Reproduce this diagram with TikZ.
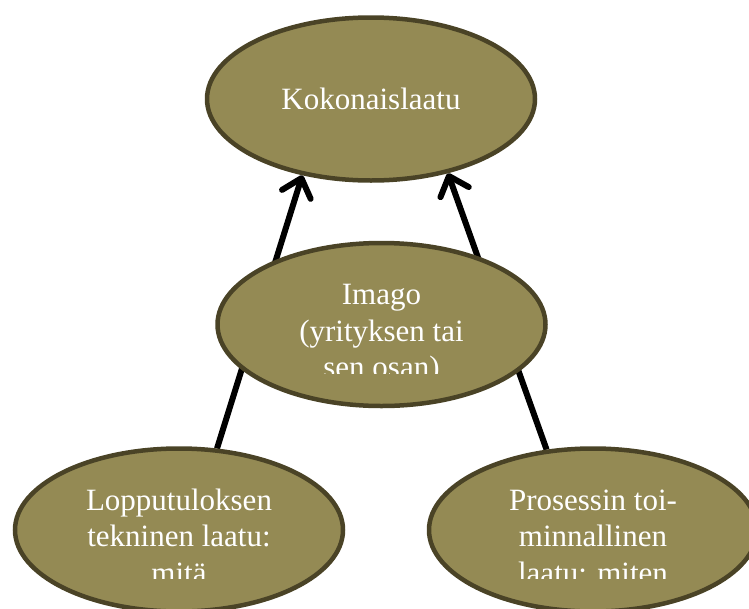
\documentclass[tikz,border=0pt]{standalone}
\usepackage{fontspec}
\setmainfont{Liberation Serif}
\usepackage{xcolor}
\usepackage{tikz}
\usetikzlibrary{positioning,arrows.meta,shapes.geometric,backgrounds}

\definecolor{olivefill}{RGB}{148,138,84}
\definecolor{oliveedge}{RGB}{74,67,38}

\tikzset{
  laatu/.style={ellipse, draw=oliveedge, fill=olivefill, line width=4.5pt,
    minimum width=328pt, minimum height=163pt, inner sep=0pt},
  laatuteksti/.style={text=white, align=center, anchor=base,
    font=\fontsize{31}{36.5}\selectfont},
  nuoli/.style={line width=6pt, -{Straight Barb[length=17pt,width=30pt,round]}}
}

\begin{document}
\begin{tikzpicture}[x=1pt,y=-1pt]
  \useasboundingbox (0,0) rectangle (749,608);

  \node[laatu] (koko) at (371,99) {};
  \node[laatu] (imago) at (381.5,324.5) {};
  \node[laatu] (lopputulos) at (179,530) {};
  \node[laatu] (prosessi) at (593,530) {};

  \begin{scope}[on background layer]
    \draw[nuoli] (lopputulos.65) -- (koko.228);
    \draw[nuoli] (prosessi.120) -- (koko.316);
  \end{scope}

  \node[laatuteksti] at ([yshift=-10pt]koko.center) {Kokonaislaatu};

  \begin{scope}
    \clip (imago.north west) rectangle ([yshift=-49pt]imago.east);
    \node[laatuteksti] at ([yshift=-53pt]imago.center) {Imago\\(yrityksen tai\\sen osan)};
  \end{scope}

  \begin{scope}
    \clip (lopputulos.north west) rectangle ([yshift=-48pt]lopputulos.east);
    \node[laatuteksti] at ([yshift=-53pt]lopputulos.center) {Lopputuloksen\\tekninen laatu:\\mitä};
  \end{scope}

  \begin{scope}
    \clip (prosessi.north west) rectangle ([yshift=-48pt]prosessi.east);
    \node[laatuteksti] at ([yshift=-53pt]prosessi.center) {Prosessin toi-\\minnallinen\\laatu: miten};
  \end{scope}
\end{tikzpicture}
\end{document}
